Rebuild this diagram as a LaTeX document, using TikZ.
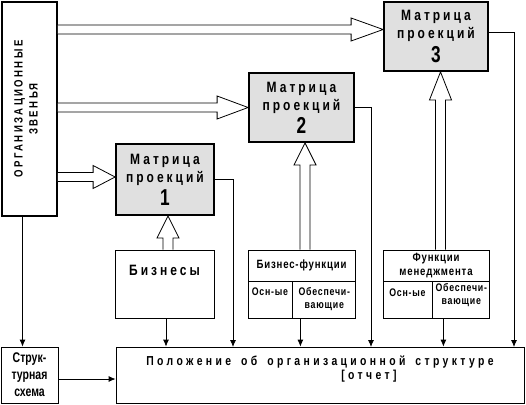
\documentclass[tikz,border=0pt]{standalone}
\usepackage{fontspec}
\setmainfont{Liberation Sans}
\newfontfamily\condfont[FakeStretch=0.75]{Liberation Sans}
\newfontfamily\trackfont[FakeStretch=0.8,LetterSpace=20]{Liberation Sans}
\newfontfamily\widetrack[FakeStretch=0.8,LetterSpace=26]{Liberation Sans}
\newfontfamily\smalltrack[FakeStretch=0.8,LetterSpace=7]{Liberation Sans}
\newcommand{\numfont}{\condfont\bfseries\fontsize{23}{23}\selectfont}
\newcommand{\polozhfont}{\widetrack\bfseries\fontsize{13}{14}\selectfont\spaceskip=10pt\relax}
\usetikzlibrary{arrows.meta,positioning,calc}

\newcommand{\hollowright}[3]{%
  \draw[hollow] let \p1=(#1), \p2=(#2) in
    (\x1,\y2+4.5pt) -- (\x2-#3,\y2+4.5pt) -- (\x2-#3,\y2+11.5pt) -- (\x2,\y2)
    -- (\x2-#3,\y2-11.5pt) -- (\x2-#3,\y2-4.5pt) -- (\x1,\y2-4.5pt);}
\newcommand{\hollowup}[3]{%
  \draw[hollow] let \p1=(#1), \p2=(#2) in
    (\x2-5pt,\y1) -- (\x2-5pt,\y2-#3) -- (\x2-11pt,\y2-#3) -- (\x2,\y2)
    -- (\x2+11pt,\y2-#3) -- (\x2+5pt,\y2-#3) -- (\x2+5pt,\y1);}

\begin{document}
\begin{tikzpicture}[x=1pt,y=-1pt,
    box/.style={draw,line width=0.8pt,inner sep=0pt,align=center},
    matbox/.style={draw,line width=1.8pt,fill=black!12,inner sep=0pt,align=center,
      font=\trackfont\bfseries\fontsize{15}{18}\selectfont},
    hollow/.style={draw,line width=0.8pt,fill=white},
    conn/.style={line width=0.8pt,-{Latex[length=7pt,width=6pt]}},
    orgtext/.style={inner sep=0pt,align=center,font=\trackfont\bfseries\fontsize{12}{15}\selectfont},
    bigtext/.style={inner sep=0pt,font=\trackfont\bfseries\fontsize{15}{17}\selectfont},
    midtext/.style={inner sep=0pt,align=center,font=\smalltrack\bfseries\fontsize{12}{14}\selectfont},
    celltext/.style={inner sep=0pt,align=center,font=\smalltrack\bfseries\fontsize{11}{13}\selectfont}]
    \useasboundingbox (0,0) rectangle (526,404);

    \node[box,line width=1.8pt,minimum width=55,minimum height=214] (org) at (29.5,109) {};
    \node[orgtext,rotate=90] (org-text) at ([xshift=-3.5pt]org.center)
        {ОРГАНИЗАЦИОННЫЕ\\ЗВЕНЬЯ};

    \node[matbox,minimum width=98,minimum height=71] (m1) at (165,179.5)
        {Матрица\\проекций\\[3pt]{\numfont 1}};
    \node[matbox,minimum width=105,minimum height=69] (m2) at (301.5,107.5)
        {Матрица\\проекций\\[3pt]{\numfont 2}};
    \node[matbox,minimum width=104,minimum height=69] (m3) at (436,36.5)
        {Матрица\\проекций\\[3pt]{\numfont 3}};

    \node[box,minimum width=99,minimum height=68] (biz) at (164.5,284) {};
    \node[bigtext,below=15pt of biz.north] (biz-text) {Бизнесы};

    \node[box,midtext,minimum width=107,minimum height=31] (bf-title) at (301.5,265.5)
        {Бизнес-функции};
    \node[box,minimum width=44,minimum height=37,anchor=north west] (bf-main)
        at (bf-title.south west) {};
    \node[box,minimum width=63,minimum height=37,anchor=north west] (bf-supp)
        at (bf-main.north east) {};
    \node[celltext,below=6pt of bf-main.north] (bf-main-text) {Осн-ые};
    \node[celltext,below=6pt of bf-supp.north] (bf-supp-text) {Обеспечи-\\вающие};

    \node[box,midtext,minimum width=106,minimum height=31] (mg-title) at (436,265.5)
        {Функции\\менеджмента};
    \node[box,minimum width=49,minimum height=37,anchor=north west] (mg-main)
        at (mg-title.south west) {};
    \node[box,minimum width=57,minimum height=37,anchor=north west] (mg-supp)
        at (mg-main.north east) {};
    \node[celltext,below=7pt of mg-main.north] (mg-main-text) {Осн-ые};
    \node[celltext,below=2pt of mg-supp.north] (mg-supp-text) {Обеспечи-\\вающие};

    \node[box,minimum width=57,minimum height=56,
          font=\condfont\bfseries\fontsize{14}{17}\selectfont] (scheme) at (29.5,375)
        {Струк-\\турная\\схема};
    \node[box,minimum width=408,minimum height=56] (polozh) at (320,375) {};
    \node[inner sep=0pt,align=left,below=9pt of polozh.north,font=\polozhfont] (polozh-text)
        {Положение об организационной структуре\\\hspace*{195pt}[отчет]};

    \hollowright{org.east}{[yshift=2.5pt]m1.west}{22pt}
    \hollowright{org.east}{m2.west}{31pt}
    \hollowright{org.east}{[yshift=7pt]m3.west}{32pt}
    \hollowup{[xshift=3pt]biz.north}{[xshift=3pt]m1.south}{22pt}
    \hollowup{[xshift=3.5pt]bf-title.north}{[xshift=3.5pt]m2.south}{22pt}
    \hollowup{[xshift=4.5pt]mg-title.north}{[xshift=4.5pt]m3.south}{28pt}

    \coordinate (drop1) at (233,347);
    \coordinate (drop2) at (371,347);
    \coordinate (drop3) at (514,347);
    \draw[conn] ([xshift=-7pt]org.south) -- ([xshift=-7pt]scheme.north);
    \draw[conn] ([yshift=-4pt]scheme.east) -- ([yshift=-4pt]scheme.east -| polozh.west);
    \draw[conn] ([xshift=1.5pt]biz.south) -- ([xshift=1.5pt]biz.south |- polozh.north);
    \draw[conn] ([xshift=8pt]bf-supp.south west) -- ([xshift=8pt]bf-supp.south west |- polozh.north);
    \draw[conn] ([xshift=11pt]mg-supp.south west) -- ([xshift=11pt]mg-supp.south west |- polozh.north);
    \draw[conn] (m1.east) -| (drop1);
    \draw[conn] (m2.east) -| (drop2);
    \draw[conn] ([yshift=4pt]m3.east) -| (drop3);
\end{tikzpicture}
\end{document}
